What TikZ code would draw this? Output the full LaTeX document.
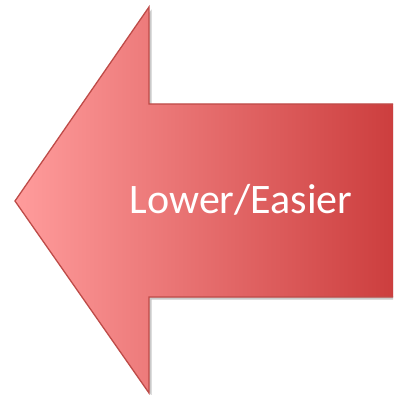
\documentclass[tikz,border=0pt]{standalone}
\usepackage{fontspec}
\setmainfont{Carlito}
\usetikzlibrary{shadows}
\definecolor{arrowleft}{HTML}{FF9C9C}
\definecolor{arrowright}{HTML}{CB3C3C}
\definecolor{arrowedge}{HTML}{BE4B48}
\tikzset{
  arrowbody/.style={draw=arrowedge, line width=1.3pt, line join=miter,
    left color=arrowleft, right color=arrowright,
    drop shadow={shadow xshift=2.5pt, shadow yshift=-2.5pt, opacity=0.35, fill=black!60}},
  label/.style={text=white, font=\fontsize{42}{50}\selectfont, inner sep=0pt}
}
\begin{document}
\begin{tikzpicture}[x=1pt,y=-1pt]
\useasboundingbox (0,0) rectangle (393,395);
\begin{scope}
\clip (0,0) rectangle (393,395);
\path[arrowbody] (15,201) -- (149,7) -- (149,104) -- (402,104) -- (402,297) -- (149,297) -- (149,393) -- cycle;
\end{scope}
\node[label, anchor=base] (txt) at (241,213) {Lower/Easier};
\end{tikzpicture}
\end{document}
